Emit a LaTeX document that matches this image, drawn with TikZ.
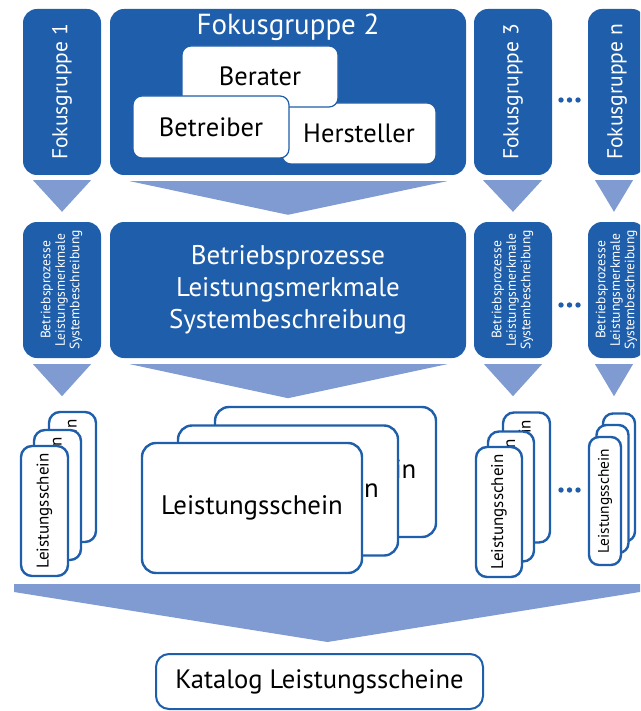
\documentclass[tikz,border=0pt]{standalone}
\usepackage{fontspec}
\setmainfont{PT Sans}
\usepackage{graphicx}
\usepackage{xcolor}
\usepackage{tikz}
\usetikzlibrary{calc}
\definecolor{fokusblue}{RGB}{31,94,170}
\definecolor{pfeilblue}{RGB}{127,155,209}
\newcommand{\fstitle}{\fontsize{29}{32}\selectfont}
\newcommand{\fsbig}{\fontsize{27}{32}\selectfont}
\newcommand{\fsrole}{\fontsize{26.5}{28}\selectfont}
\newcommand{\fsside}{\fontsize{21.5}{24}\selectfont}
\newcommand{\fssmall}{\fontsize{13.6}{14.5}\selectfont}
\newcommand{\fscard}{\fontsize{26.8}{28}\selectfont}
\newcommand{\fscardsm}{\fontsize{17}{19}\selectfont}
\newcommand{\fscardn}{\fontsize{15.4}{17}\selectfont}
\newcommand{\fskat}{\fontsize{26.6}{29}\selectfont}
\newcommand{\prozesstext}{\rotatebox{90}{\begin{tabular}{@{}c@{}}Betriebsprozesse\\Leistungsmerkmale\\Systembeschreibung\end{tabular}}}
\newcommand{\scheintext}{\rotatebox{90}{Leistungsschein}}
\tikzset{
    box/.style = {align=center, inner sep=0pt, text centered},
    blue_box/.style = {box, rectangle, rounded corners=14pt, fill=fokusblue, draw=none, text=white},
    role_box/.style = {box, rectangle, rounded corners=9pt, fill=white, draw=fokusblue, line width=1.2pt, text=black, font=\fsrole},
    card/.style = {box, rectangle, rounded corners=11pt, fill=white, draw=fokusblue, line width=2.4pt, text=black},
    funnel/.style = {fill=pfeilblue, draw=none}
}

\begin{document}
\begin{tikzpicture}[x=1pt, y=-1pt]
    \useasboundingbox (0,0) rectangle (640,711);
    \clip (0,0) rectangle (640,711);

    % Fokusgruppen
    \node [blue_box, minimum width=78pt, minimum height=166pt, font=\fsside] (fg1) at (62,92) {\rotatebox{90}{Fokusgruppe 1}};
    \node [blue_box, minimum width=356pt, minimum height=166pt] (fg2) at (288,92) {};
    \node [box, text=white, font=\fstitle, anchor=base] (fg2t) at (288,35) {Fokusgruppe 2};
    \node [role_box, minimum width=154pt, minimum height=61pt] (hersteller) at (359,133.5) {Hersteller};
    \node [role_box, minimum width=156pt, minimum height=61pt] (berater) at (260,76.5) {Berater};
    \node [role_box, minimum width=156pt, minimum height=62pt] (betreiber) at (211,127) {Betreiber};
    \node [blue_box, minimum width=78pt, minimum height=166pt, font=\fsside] (fg3) at (513,92) {\rotatebox{90}{Fokusgruppe 3}};
    \node [blue_box, minimum width=58pt, minimum height=166pt, font=\fsside] (fgn) at (617,92) {\rotatebox{90}{Fokusgruppe n}};

    % Prozesse
    \node [blue_box, minimum width=78pt, minimum height=136pt, font=\fssmall] (pr1) at (62,290) {\prozesstext};
    \node [blue_box, minimum width=356pt, minimum height=136pt, font=\fsbig] (pr2) at (288,290) {Betriebsprozesse\\Leistungsmerkmale\\Systembeschreibung};
    \node [blue_box, minimum width=78pt, minimum height=136pt, font=\fssmall] (pr3) at (513,290) {\prozesstext};
    \node [blue_box, minimum width=58pt, minimum height=136pt, font=\fssmall] (prn) at (617,290) {\prozesstext};

    % Pfeile
    \fill [funnel] ($(fg1.south)+(-29,5)$) -- ($(fg1.south)+(29,5)$) -- ($(pr1.north)+(0,-10)$) -- cycle;
    \fill [funnel] ($(fg2.south)+(-158,6)$) -- ($(fg2.south)+(159,6)$) -- ($(pr2.north)+(0,-7)$) -- cycle;
    \fill [funnel] ($(fg3.south)+(-30,5)$) -- ($(fg3.south)+(29,5)$) -- ($(pr3.north)+(0,-10)$) -- cycle;
    \fill [funnel] ($(fgn.south)+(-22,5)$) -- ($(fgn.south)+(16,5)$) -- ($(prn.north)+(-3,-10)$) -- cycle;
    \fill [funnel] ($(pr1.south)+(-29,6)$) -- ($(pr1.south)+(29,6)$) -- ($(pr1.south)+(0,38)$) -- cycle;
    \fill [funnel] ($(pr2.south)+(-158,6)$) -- ($(pr2.south)+(159,6)$) -- ($(pr2.south)+(0,40)$) -- cycle;
    \fill [funnel] ($(pr3.south)+(-29,6)$) -- ($(pr3.south)+(29,6)$) -- ($(pr3.south)+(0,38)$) -- cycle;
    \fill [funnel] ($(prn.south)+(-22,6)$) -- ($(prn.south)+(16,6)$) -- ($(prn.south)+(-3,38)$) -- cycle;

    % Leistungsscheine
    \node [card, minimum width=47pt, minimum height=130pt, font=\fscardsm] (ls1c) at (72.5,477) {\scheintext};
    \node [card, minimum width=47pt, minimum height=130pt, font=\fscardsm] (ls1b) at (57.5,495) {\scheintext};
    \node [card, minimum width=47pt, minimum height=130pt, font=\fscardsm] (ls1a) at (44.5,511) {\scheintext};
    \node [card, rounded corners=14pt, minimum width=221pt, minimum height=130pt, font=\fscard] (ls2c) at (325.5,472) {Leistungsschein};
    \node [card, rounded corners=14pt, minimum width=220pt, minimum height=130pt, font=\fscard] (ls2b) at (288,490.5) {Leistungsschein};
    \node [card, rounded corners=14pt, minimum width=220pt, minimum height=130pt, font=\fscard] (ls2a) at (252,508) {Leistungsschein};
    \node [card, minimum width=47pt, minimum height=130pt, font=\fscardsm] (ls3c) at (526.5,477.5) {\scheintext};
    \node [card, minimum width=46pt, minimum height=130pt, font=\fscardsm] (ls3b) at (511,496.5) {\scheintext};
    \node [card, minimum width=46pt, minimum height=130pt, font=\fscardsm] (ls3a) at (499,512) {\scheintext};
    \node [card, rounded corners=10pt, minimum width=32pt, minimum height=128pt, font=\fscardn] (lsnc) at (619,477.5) {\scheintext};
    \node [card, rounded corners=10pt, minimum width=32pt, minimum height=128pt, font=\fscardn] (lsnb) at (612.5,489) {\scheintext};
    \node [card, rounded corners=10pt, minimum width=32pt, minimum height=128pt, font=\fscardn] (lsna) at (605,501) {\scheintext};

    % Punkte
    \foreach \y in {100,305,490}
        \foreach \x in {561,569.5,578}
            \fill [fokusblue] (\x,\y) circle (2.7pt);

    % Katalog
    \node [card, line width=2pt, rounded corners=13pt, minimum width=327pt, minimum height=55pt, font=\fskat] (kat) at (319.5,681.5) {Katalog Leistungsscheine};
    \coordinate (sumL) at (14,584);
    \coordinate (sumR) at (646,584);
    \fill [funnel] (sumL) -- (sumR) -- ($(sumR)+(0,7)$) -- ($(kat.north)+(8,-11)$) -- ($(sumL)+(0,8)$) -- cycle;
\end{tikzpicture}
\end{document}
